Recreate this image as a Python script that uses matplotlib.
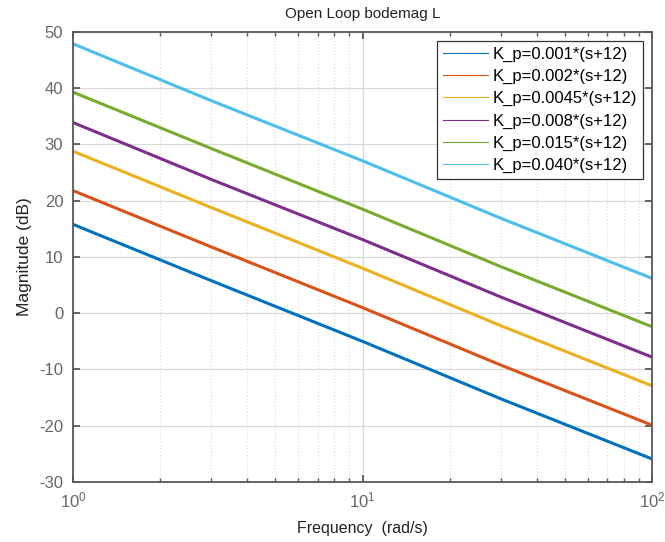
import matplotlib
matplotlib.use("Agg")
import matplotlib.pyplot as plt
from matplotlib.lines import Line2D
from matplotlib.ticker import LogLocator, NullFormatter

plt.rcParams['font.family'] = ['Liberation Sans', 'DejaVu Sans']
plt.rcParams['axes.unicode_minus'] = False

# frequency points (rad/s) and magnitudes (dB)
freq = [1, 3, 10, 30, 100]
mag_001 = [15.8, 5.8, -5.0, -15.2, -25.9]
mag_002 = [21.8, 11.8, 1.0, -9.2, -19.9]
mag_0045 = [28.8, 18.8, 8.0, -2.2, -12.9]
mag_008 = [33.9, 23.8, 13.1, 2.9, -7.8]
mag_015 = [39.3, 29.3, 18.5, 8.3, -2.4]
mag_040 = [47.9, 37.8, 27.1, 16.9, 6.2]

labels = ['K_p=0.001*(s+12)', 'K_p=0.002*(s+12)', 'K_p=0.0045*(s+12)',
          'K_p=0.008*(s+12)', 'K_p=0.015*(s+12)', 'K_p=0.040*(s+12)']
colors = ['#0072BD', '#D95319', '#EDB120', '#7E2F8E', '#77AC30', '#4DBEEE']
series = [mag_001, mag_002, mag_0045, mag_008, mag_015, mag_040]

fig = plt.figure(figsize=(6.65, 5.42), dpi=100)
ax = fig.add_axes([0.1098, 0.1107, 0.8707, 0.8303])

for y, c in zip(series, colors):
    ax.semilogx(freq, y, color=c, linewidth=2.2)

ax.set_xlim(1, 100)
ax.set_ylim(-30, 50)
ax.set_yticks(range(-30, 51, 10))
ax.xaxis.set_minor_locator(LogLocator(base=10, subs=range(2, 10)))
ax.xaxis.set_minor_formatter(NullFormatter())

ax.grid(True, which='major', color='#d9d9d9', linewidth=0.9)
ax.grid(True, which='minor', axis='x', color='#dedede', linestyle=':', linewidth=0.9)
ax.set_axisbelow(True)

for s in ax.spines.values():
    s.set_color('#595959')
    s.set_linewidth(1.3)
ax.tick_params(which='both', direction='in', top=True, right=True,
               colors='#595959', labelcolor='#666666', labelsize=12)
ax.tick_params(which='major', length=5, width=1.3)
ax.tick_params(which='minor', length=3, width=1.0)
ax.tick_params(axis='x', pad=6)
ax.tick_params(axis='y', pad=7)

ax.set_xlabel('Frequency  (rad/s)', fontsize=11.5, color='#222222', labelpad=8)
ax.set_ylabel('Magnitude (dB)', fontsize=12.5, color='#222222', labelpad=5)
ax.set_title('Open Loop bodemag L', fontsize=11, color='#222222', pad=10)

handles = [Line2D([0], [0], color=c, linewidth=0.8) for c in colors]
leg = ax.legend(handles, labels, loc='upper right', fontsize=12,
                fancybox=False, framealpha=1, edgecolor='#333333',
                handlelength=2.7, handletextpad=0.3, labelspacing=0.42,
                borderpad=0.35, borderaxespad=0.55)
leg.get_frame().set_linewidth(0.9)

fig.savefig('out.png', dpi=100)
